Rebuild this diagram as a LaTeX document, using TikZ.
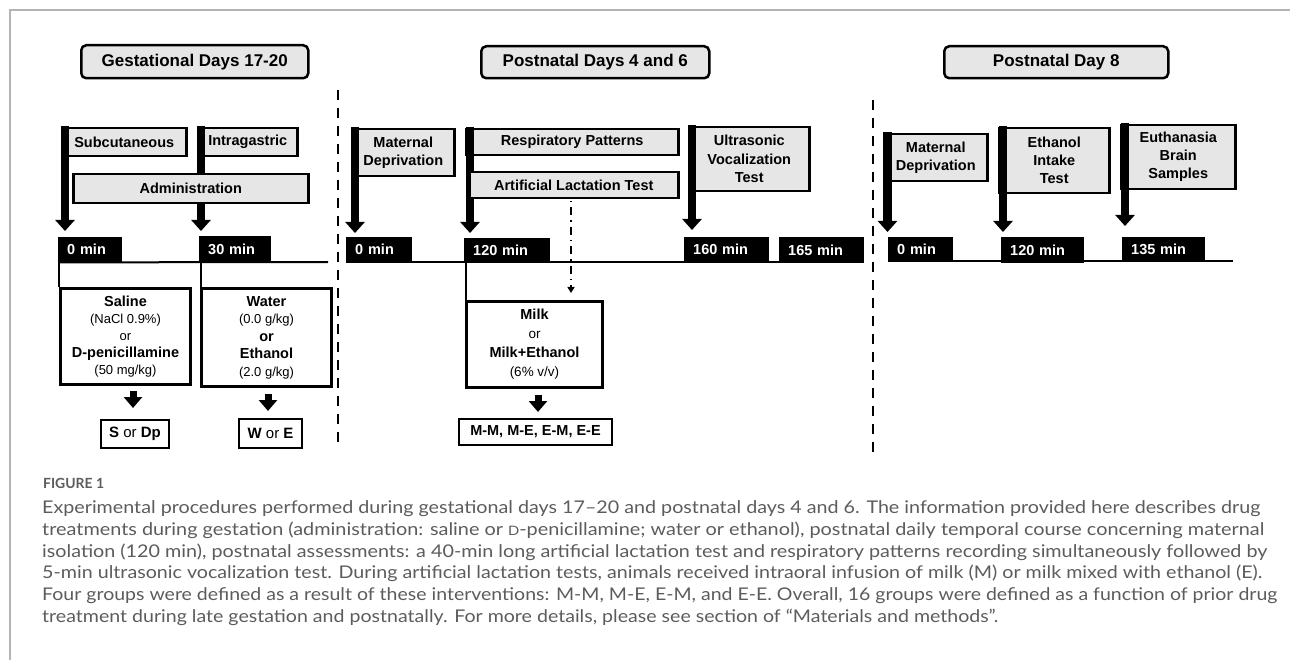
\documentclass[tikz,border=0pt]{standalone}
\usepackage{fontspec}
\usepackage{graphicx}
\setmainfont{Liberation Sans}
\newfontfamily\capfont{Lato}
\usetikzlibrary{arrows.meta,calc}
\definecolor{boxgray}{HTML}{E6E6E6}
\definecolor{capgray}{HTML}{5C5C5C}
\definecolor{framegray}{HTML}{B4B4B4}
\newcommand\Bf[1]{{\bfseries #1}}
\newcommand\Sm[1]{{\fontsize{13}{17}\selectfont #1}}
\tikzset{
 every node/.style={inner sep=0pt},
 hdr/.style={draw, line width=2.5pt, rounded corners=5pt, fill=boxgray, font=\bfseries\fontsize{17}{20}\selectfont, anchor=north west},
 flagbox/.style={draw, line width=2.5pt, fill=boxgray, font=\bfseries\fontsize{14.5}{18}\selectfont, align=center, anchor=north west},
 tbox/.style={fill=black, text=white, font=\bfseries\fontsize{14.5}{17}\selectfont, anchor=north west, inner xsep=9pt, align=left},
 dbox/.style={draw, line width=3pt, fill=white, align=center, anchor=north west},
 rbox/.style={draw, line width=2pt, fill=white, align=center, anchor=north west, font=\fontsize{15}{17}\selectfont},
 pole/.style={line width=8.5pt, -{Triangle[width=19pt,length=11pt]}},
 darrow/.style={line width=7pt, -{Triangle[width=18pt,length=11pt]}},
 tline/.style={line width=2pt},
 conn/.style={line width=2.5pt},
 sepline/.style={line width=2.5pt, dash pattern=on 10pt off 8pt},
 ddarrow/.style={line width=2pt, dash pattern=on 1.5pt off 5pt on 8pt off 5pt, -{Triangle[width=7pt,length=6pt]}},
 captext/.style={anchor=base west, text=capgray, font=\capfont\fontsize{17.5}{20}\selectfont},
}
\begin{document}
\begin{tikzpicture}[x=1pt,y=-1pt]
\useasboundingbox (0,0) rectangle (1290,660);
\draw[framegray, line width=1.5pt] (10,660) -- (10,10) -- (1290,10);

% ---------------- Gestational days ----------------
\node[hdr, minimum width=227pt, minimum height=33pt] (h1) at (80,44) {Gestational Days 17-20};
\node[flagbox, minimum width=124pt, minimum height=28pt] (fSub) at (61,127) {Subcutaneous};
\node[flagbox, minimum width=99pt, minimum height=28pt] (fIntra) at (197,127) {Intragastric};
\coordinate (tipSub) at (65,231);
\coordinate (tipIntra) at (201,231);
\draw[pole] ([shift={(4pt,1.25pt)}]fSub.north west) -- (tipSub);
\draw[pole] ([shift={(4pt,1.25pt)}]fIntra.north west) -- (tipIntra);
\node[flagbox, minimum width=235pt, minimum height=29pt] (admin) at (72,173) {Administration};

\node[tbox, text width=46pt, minimum height=25pt] (t0a) at (58,237) {0 min};
\node[tbox, text width=54pt, minimum height=26pt] (t30) at (199,236) {30 min};
\coordinate (tl1) at (328,262);
\draw[tline] (t0a.south west) -- (tl1);

\node[dbox, minimum width=130pt, minimum height=96pt, font=\fontsize{14.5}{17}\selectfont] (saline) at (59,287)
 {\Bf{Saline}\\\Sm{(NaCl 0.9\%)}\\\Sm{or}\\\Bf{D-penicillamine}\\\Sm{(50 mg/kg)}};
\node[dbox, minimum width=130pt, minimum height=98pt, font=\fontsize{14.5}{17.5}\selectfont] (water) at (200,287)
 {\Bf{Water}\\{\fontsize{13}{17.5}\selectfont (0.0 g/kg)}\\\Bf{or}\\\Bf{Ethanol}\\{\fontsize{13}{17.5}\selectfont (2.0 g/kg)}};
\draw[conn] (saline.north west) -- (saline.north west |- t0a.south);
\draw[conn] ([xshift=1pt]water.north west) -- ([xshift=1pt]water.north west |- t30.south);

\node[rbox, minimum width=68pt, minimum height=28pt] (Sbox) at (100,419) {\Bf{S} or \Bf{Dp}};
\node[rbox, minimum width=63pt, minimum height=29pt] (Wbox) at (238,418) {\Bf{W} or \Bf{E}};
\draw[darrow, shorten <=5pt, shorten >=11pt] ([xshift=-2pt]Sbox.north |- saline.south) -- ([xshift=-2pt]Sbox.north);
\draw[darrow, shorten <=6pt, shorten >=7pt] ([xshift=-2.5pt]Wbox.north |- water.south) -- ([xshift=-2.5pt]Wbox.north);

% separator 1
\coordinate (s1a) at (338,90);
\coordinate (s1b) at (338,445);
\draw[sepline] (s1a) -- (s1b);

% ---------------- Postnatal days 4 and 6 ----------------
\node[hdr, minimum width=228pt, minimum height=32pt] (h2) at (480,45) {Postnatal Days 4 and 6};
\node[flagbox, minimum width=102pt, minimum height=47pt] (fMD1) at (351,128) {Maternal\\Deprivation};
\node[flagbox, minimum width=212pt, minimum height=26pt] (fResp) at (465,128) {Respiratory Patterns};
\node[flagbox, minimum width=120pt, minimum height=64pt, font=\bfseries\fontsize{14.5}{18.5}\selectfont] (fUSV) at (688,126) {Ultrasonic\\Vocalization\\Test};
\coordinate (tipMD1) at (355,233);
\coordinate (tipResp) at (470,233);
\coordinate (tipUSV) at (692,230);
\draw[pole] ([shift={(4pt,1.25pt)}]fMD1.north west) -- (tipMD1);
\draw[pole] ([shift={(5pt,1.25pt)}]fResp.north west) -- (tipResp);
\draw[pole] ([shift={(4pt,1.25pt)}]fUSV.north west) -- (tipUSV);
\node[flagbox, minimum width=209pt, minimum height=26pt] (alt) at (468,171) {Artificial Lactation Test};

\node[tbox, text width=48pt, minimum height=25pt] (t0b) at (346,237) {0 min};
\node[tbox, text width=68pt, minimum height=24pt] (t120a) at (464,238) {120 min};
\node[tbox, text width=67pt, minimum height=25pt] (t160) at (684,237) {160 min};
\node[tbox, text width=67pt, minimum height=26pt] (t165) at (779,237) {165 min};
\draw[tline] (t0b.south west) -- (t0b.south west -| t165.south east);

\node[dbox, minimum width=136pt, minimum height=86pt, font=\fontsize{14.5}{19}\selectfont] (milk) at (465,300)
 {\Bf{Milk}\\{\fontsize{13.5}{19}\selectfont or}\\\Bf{Milk+Ethanol}\\{\fontsize{13.5}{19}\selectfont (6\% v/v)}};
\draw[conn] ([xshift=1pt]milk.north west) -- ([xshift=1pt]milk.north west |- t120a.south);
\coordinate (ddA) at (571,201);
\draw[ddarrow, shorten >=7pt] (ddA) -- (ddA |- milk.north);
\node[rbox, minimum width=153pt, minimum height=26pt, font=\bfseries\fontsize{14.5}{17}\selectfont] (MM) at (458,418) {M-M, M-E, E-M, E-E};
\draw[darrow, shorten <=6pt, shorten >=6pt] ([xshift=2.5pt]MM.north |- milk.south) -- ([xshift=2.5pt]MM.north);

% separator 2
\coordinate (s2a) at (873,100);
\coordinate (s2b) at (873,452);
\draw[sepline] (s2a) -- (s2b);

% ---------------- Postnatal day 8 ----------------
\node[hdr, minimum width=224pt, minimum height=32pt] (h3) at (943,45) {Postnatal Day 8};
\node[flagbox, minimum width=103pt, minimum height=47pt] (fMD2) at (883,133) {Maternal\\Deprivation};
\node[flagbox, minimum width=110pt, minimum height=65pt] (fEIT) at (998,127) {Ethanol\\Intake\\Test};
\node[flagbox, minimum width=114pt, minimum height=64pt] (fEuth) at (1120,124) {Euthanasia\\Brain\\Samples};
\coordinate (tipMD2) at (887.5,232);
\coordinate (tipEIT) at (1003,232);
\coordinate (tipEuth) at (1125,226);
\draw[pole] ([shift={(4.5pt,1.25pt)}]fMD2.north west) -- (tipMD2);
\draw[pole] ([shift={(5pt,1.25pt)}]fEIT.north west) -- (tipEIT);
\draw[pole] ([shift={(5pt,1.25pt)}]fEuth.north west) -- (tipEuth);

\node[tbox, text width=47pt, minimum height=25pt] (t0c) at (888,237) {0 min};
\node[tbox, text width=65pt, minimum height=26pt] (t120b) at (1001,237) {120 min};
\node[tbox, text width=65pt, minimum height=25pt] (t135) at (1122,237) {135 min};
\coordinate (tl3) at (1233,261);
\draw[tline] (t0c.south west |- tl3) -- (tl3);

% ---------------- caption ----------------
\node[anchor=base west, text=capgray, font=\capfont\bfseries\fontsize{14}{16}\selectfont] (figlbl) at (43,488) {\resizebox{61pt}{\height}{FIGURE 1}};
\node[captext] (cap1) at (42,513) {\resizebox{1218pt}{\height}{Experimental procedures performed during gestational days 17–20 and postnatal days 4 and 6. The information provided here describes drug}};
\node[captext] (cap2) at (42,535) {\resizebox{1222pt}{\height}{treatments during gestation (administration: saline or {\fontsize{13}{14}\selectfont D}-penicillamine; water or ethanol), postnatal daily temporal course concerning maternal}};
\node[captext] (cap3) at (42,557) {\resizebox{1225pt}{\height}{isolation (120 min), postnatal assessments: a 40-min long artificial lactation test and respiratory patterns recording simultaneously followed by}};
\node[captext] (cap4) at (42,578) {\resizebox{1220pt}{\height}{5-min ultrasonic vocalization test. During artificial lactation tests, animals received intraoral infusion of milk (M) or milk mixed with ethanol (E).}};
\node[captext] (cap5) at (42,600) {\resizebox{1235pt}{\height}{Four groups were defined as a result of these interventions: M-M, M-E, E-M, and E-E. Overall, 16 groups were defined as a function of prior drug}};
\node[captext] (cap6) at (42,622) {\resizebox{956pt}{\height}{treatment during late gestation and postnatally. For more details, please see section of “Materials and methods”.}};
\end{tikzpicture}
\end{document}
